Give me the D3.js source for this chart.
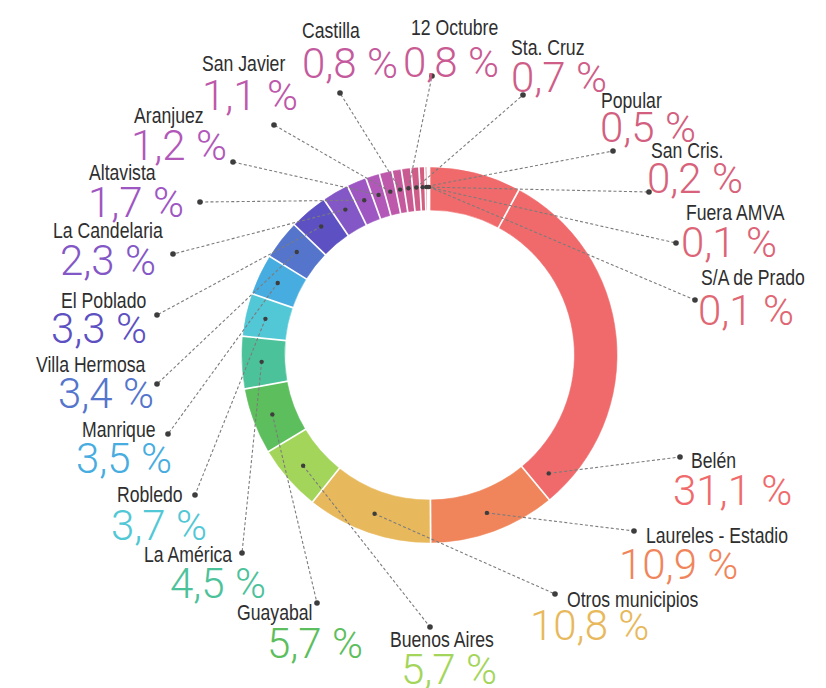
<!DOCTYPE html>
<html>
<head>
<meta charset="utf-8">
<script src="https://cdn.jsdelivr.net/npm/d3@7"></script>
<style>
  html, body { margin: 0; padding: 0; background: #ffffff; }
  svg { display: block; }
  .name { font-family: "Liberation Sans", Arial, sans-serif; font-size: 21.5px; fill: #2e2e2e; }
  .pct { font-family: Roboto, "Liberation Sans", sans-serif; font-weight: 300; font-size: 42px; }
</style>
</head>
<body>
<svg id="chart" width="826" height="688"></svg>
<script>
// Share of cases by comuna / municipality (percent), clockwise from the top
const categories = [
  "Belén", "Laureles - Estadio", "Otros municipios", "Buenos Aires", "Guayabal",
  "La América", "Robledo", "Manrique", "Villa Hermosa", "El Poblado",
  "La Candelaria", "Altavista", "Aranjuez", "San Javier", "Castilla",
  "12 Octubre", "Sta. Cruz", "Popular", "San Cris.", "Fuera AMVA", "S/A de Prado"
];
const shares = [
  31.1, 10.9, 10.8, 5.7, 5.7,
  4.5, 3.7, 3.5, 3.4, 3.3,
  2.3, 1.7, 1.2, 1.1, 0.8,
  0.8, 0.7, 0.5, 0.2, 0.1, 0.1
];
const colors = [
  "#f06a6b", "#f0855b", "#e8b95c", "#a4d55b", "#5cbe5c",
  "#4cc29a", "#52c7d5", "#47ace0", "#5475cb", "#5d50c2",
  "#8457c6", "#9e56c2", "#b158b9", "#bd58aa", "#c4599d",
  "#c95a92", "#ce5d88", "#d35f80", "#d8627a", "#dc6476", "#e06672"
];

// Label placement: [dot x, dot y, name x, name baseline, value x, value baseline]
const labelLayout = {
  "Belén":              [680, 457, 691, 468, 673, 505],
  "Laureles - Estadio": [634, 531, 646, 543, 619, 579],
  "Otros municipios":   [555, 594, 567, 607, 530, 640],
  "Buenos Aires":       [430, 627, 390, 647, 401, 684],
  "Guayabal":           [317, 603, 237, 620, 267, 658],
  "La América":         [242, 553, 144, 562, 170, 598],
  "Robledo":            [195, 495, 117, 502, 111, 540],
  "Manrique":           [168, 434,  82, 437,  76, 473],
  "Villa Hermosa":      [157, 384,  36, 372,  58, 408],
  "El Poblado":         [157, 315,  61, 308,  51, 343],
  "La Candelaria":      [173, 254,  53, 238,  60, 275],
  "Altavista":          [200, 202,  89, 180,  88, 217],
  "Aranjuez":           [233, 162, 134, 123, 131, 160],
  "San Javier":         [274, 125, 202,  71, 202, 110],
  "Castilla":           [340,  93, 302,  38, 302,  78],
  "12 Octubre":         [432,  76, 411,  35, 403,  77],
  "Sta. Cruz":          [523,  95, 511,  55, 511,  92],
  "Popular":            [613, 151, 601, 108, 600, 142],
  "San Cris.":          [649, 192, 651, 158, 647, 193],
  "Fuera AMVA":         [676, 243, 686, 220, 681, 257],
  "S/A de Prado":       [695, 300, 701, 285, 698, 325]
};
// Where along its arc each leader line starts (fraction of the slice)
const anchorFraction = { "Belén": 0.95 };
// Horizontal squeeze that turns the sans face into a narrow cut
const narrow = 0.82;

const cx = 429.5, cy = 355;
const innerR = 145, outerR = 187.5, anchorR = 168;

const locale = d3.formatLocale({ decimal: ",", thousands: ".", grouping: [3], currency: ["", ""] });
const fmt = v => locale.format(".1f")(v) + " %";

// The ring runs on a 0–100 % scale; the share not assigned to any label
// is painted in the colour of the leading slice.
const rows = categories.map((c, i) => ({ name: c, value: shares[i], color: colors[i], labelled: true }));
const unassigned = 100 - d3.sum(shares);
const ringData = [{ name: "sin asignar", value: unassigned, color: colors[0], labelled: false }].concat(rows);

const pie = d3.pie().sort(null).value(d => d.value).startAngle(0).endAngle(2 * Math.PI);
const arcs = pie(ringData);
const arc = d3.arc().innerRadius(innerR).outerRadius(outerR);

const svg = d3.select("#chart");
const g = svg.append("g").attr("transform", `translate(${cx},${cy})`);

g.selectAll("path.slice")
  .data(arcs)
  .join("path")
  .attr("class", "slice")
  .attr("d", arc)
  .attr("fill", d => d.data.color)
  .attr("stroke", d => d.data.color)
  .attr("stroke-width", 0.6);

// White separators at the start of every labelled slice
const seps = arcs.filter(d => d.data.labelled);
g.selectAll("line.sep")
  .data(seps)
  .join("line")
  .attr("class", "sep")
  .attr("x1", d => d3.pointRadial(d.startAngle, innerR - 1)[0])
  .attr("y1", d => d3.pointRadial(d.startAngle, innerR - 1)[1])
  .attr("x2", d => d3.pointRadial(d.startAngle, outerR + 1)[0])
  .attr("y2", d => d3.pointRadial(d.startAngle, outerR + 1)[1])
  .attr("stroke", "#ffffff")
  .attr("stroke-width", 1.7);
// closing separator at the top
g.append("line")
  .attr("x1", d3.pointRadial(0, innerR - 1)[0]).attr("y1", d3.pointRadial(0, innerR - 1)[1])
  .attr("x2", d3.pointRadial(0, outerR + 1)[0]).attr("y2", d3.pointRadial(0, outerR + 1)[1])
  .attr("stroke", "#ffffff").attr("stroke-width", 1.7);

// Leader lines and labels
const labelled = arcs.filter(d => d.data.labelled).map(d => {
  const f = anchorFraction[d.data.name] ?? 0.5;
  const a = d.startAngle + (d.endAngle - d.startAngle) * f;
  const p = d3.pointRadial(a, anchorR);
  const L = labelLayout[d.data.name];
  return { d, ax: cx + p[0], ay: cy + p[1], L };
});

const lines = svg.append("g");
lines.selectAll("line")
  .data(labelled)
  .join("line")
  .attr("x1", o => o.ax).attr("y1", o => o.ay)
  .attr("x2", o => o.L[0]).attr("y2", o => o.L[1])
  .attr("stroke", "#7c7c7c")
  .attr("stroke-width", 1.1)
  .attr("stroke-dasharray", "3,2.2");

const dots = svg.append("g").attr("fill", "#3d3d3d");
dots.selectAll("circle.in")
  .data(labelled)
  .join("circle")
  .attr("class", "in")
  .attr("cx", o => o.ax).attr("cy", o => o.ay).attr("r", 2.2);
dots.selectAll("circle.out")
  .data(labelled)
  .join("circle")
  .attr("class", "out")
  .attr("cx", o => o.L[0]).attr("cy", o => o.L[1]).attr("r", 2.8);

const texts = svg.append("g");
texts.selectAll("text.pct")
  .data(labelled)
  .join("text")
  .attr("class", "pct")
  .attr("x", o => o.L[4]).attr("y", o => o.L[5])
  .attr("fill", o => o.d.data.color)
  .text(o => fmt(o.d.data.value));
texts.selectAll("text.name")
  .data(labelled)
  .join("text")
  .attr("class", "name")
  .attr("transform", o => `translate(${o.L[2]},${o.L[3]}) scale(${narrow},1)`)
  .text(o => o.d.data.name);
</script>
</body>
</html>
